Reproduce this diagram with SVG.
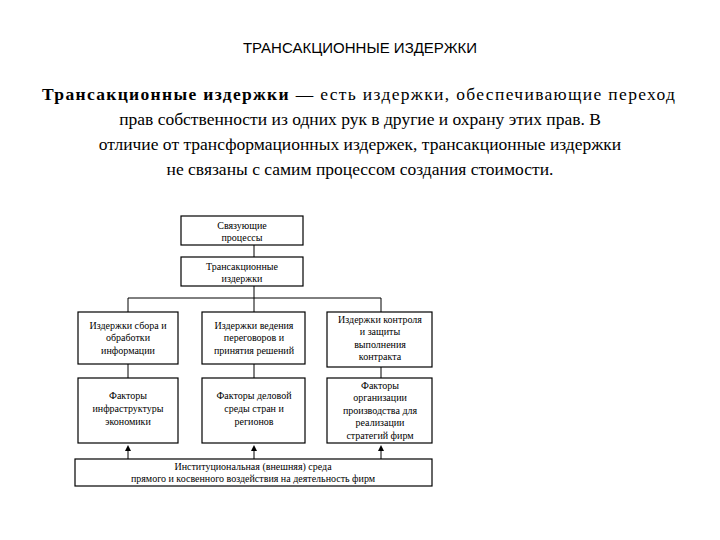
<svg xmlns="http://www.w3.org/2000/svg" width="720" height="540" viewBox="0 0 720 540">
<style>
.b{fill:#fff;stroke:#000;stroke-width:1.2}
.s{font-family:'Liberation Serif','Times New Roman',serif;font-size:10px;text-anchor:middle;fill:#000}
.h{font-family:'Liberation Serif','Times New Roman',serif;font-size:17.5px;fill:#000}
.l{stroke:#000;stroke-width:1;fill:none}
</style>
<defs><marker id="a" markerWidth="6" markerHeight="6" refX="3" refY="3" orient="auto"><path d="M0,0L6,3L0,6z" fill="#000"/></marker></defs>
<rect width="720" height="540" fill="#fff"/>
<text x="360" y="53" text-anchor="middle" font-family="'Liberation Sans',sans-serif" font-size="15">ТРАНСАКЦИОННЫЕ ИЗДЕРЖКИ</text>
<text class="h" x="42" y="100" textLength="633"><tspan font-weight="bold">Трансакционные издержки</tspan> — есть издержки, обеспечивающие переход</text>
<text class="h" x="360" y="125" text-anchor="middle">прав собственности из одних рук в другие и охрану этих прав. В</text>
<text class="h" x="360" y="150" text-anchor="middle">отличие от трансформационных издержек, трансакционные издержки</text>
<text class="h" x="360" y="175" text-anchor="middle">не связаны с самим процессом создания стоимости.</text>
<g id="n1"><rect class="b" x="181" y="216" width="122" height="29"/><text class="s" x="242" y="229">Связующие</text><text class="s" x="242" y="241">процессы</text></g>
<g id="n2"><rect class="b" x="181" y="257" width="122" height="29"/><text class="s" x="242" y="270">Трансакционные</text><text class="s" x="242" y="282">издержки</text></g>
<g id="n3"><rect class="b" x="78" y="312" width="100" height="52"/><text class="s" x="128" y="329">Издержки сбора и</text><text class="s" x="128" y="341">обработки</text><text class="s" x="128" y="354">информации</text></g>
<g id="n4"><rect class="b" x="202" y="312" width="103" height="52"/><text class="s" x="254" y="329">Издержки ведения</text><text class="s" x="254" y="341">переговоров и</text><text class="s" x="254" y="354">принятия решений</text></g>
<g id="n5"><rect class="b" x="327" y="312" width="105" height="55"/><text class="s" x="380" y="323">Издержки контроля</text><text class="s" x="380" y="335">и защиты</text><text class="s" x="380" y="348">выполнения</text><text class="s" x="380" y="360">контракта</text></g>
<g id="n6"><rect class="b" x="78" y="378" width="100" height="65"/><text class="s" x="128" y="399">Факторы</text><text class="s" x="128" y="412">инфраструктуры</text><text class="s" x="128" y="425">экономики</text></g>
<g id="n7"><rect class="b" x="202" y="378" width="103" height="65"/><text class="s" x="254" y="399">Факторы деловой</text><text class="s" x="254" y="412">среды стран и</text><text class="s" x="254" y="425">регионов</text></g>
<g id="n8"><rect class="b" x="327" y="378" width="105" height="65"/><text class="s" x="380" y="389">Факторы</text><text class="s" x="380" y="401">организации</text><text class="s" x="380" y="414">производства для</text><text class="s" x="380" y="426">реализации</text><text class="s" x="380" y="439">стратегий фирм</text></g>
<g id="n9"><rect class="b" x="75" y="459" width="357" height="27"/><text class="s" x="253" y="470">Институциональная (внешняя) среда</text><text class="s" x="253" y="482">прямого и косвенного воздействия на деятельность фирм</text></g>
<g id="connectors">
<path class="l" d="M254 245V257M254 286V298M128 298H381M128 298V312M254 298V312M381 298V312M128 364V378M254 364V378M381 367V378"/>
<path class="l" d="M128 459V448" marker-end="url(#a)"/>
<path class="l" d="M254 459V448" marker-end="url(#a)"/>
<path class="l" d="M381 459V448" marker-end="url(#a)"/>
</g>
</svg>
